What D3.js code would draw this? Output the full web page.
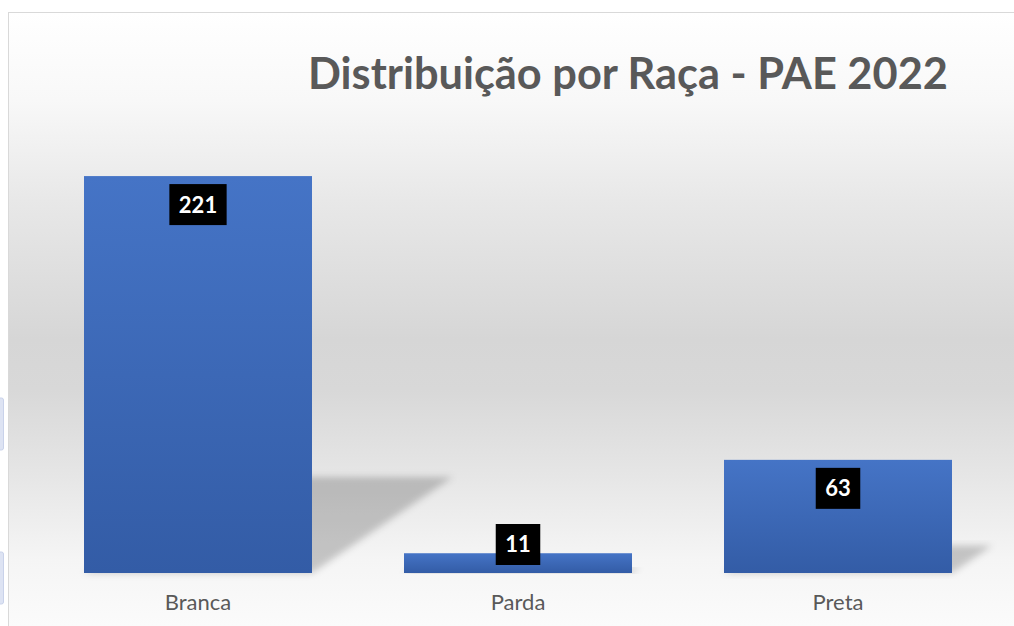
<!DOCTYPE html>
<html><head><meta charset="utf-8">
<script src="https://cdn.jsdelivr.net/npm/d3@7"></script>
<style>body{margin:0;background:#fff;overflow:hidden}</style>
</head><body>
<svg id="c" width="1014" height="626"></svg>
<script>
const categories = ["Branca", "Parda", "Preta"];
const values = [221, 11, 63];
const titleText = "Distribuição por Raça - PAE 2022";
const FONT = "Lato, 'Open Sans', sans-serif";

const W = 1014, H = 626;
const svg = d3.select("#c");
const defs = svg.append("defs");

// background gradient
const bg = defs.append("linearGradient").attr("id", "bg")
  .attr("gradientUnits", "userSpaceOnUse")
  .attr("x1", 0).attr("y1", 13).attr("x2", 0).attr("y2", 626);
[[0, "#ffffff"], [0.142, "#f8f8f8"], [0.305, "#e8e8e8"], [0.533, "#d6d6d6"],
 [0.615, "#d8d8d8"], [0.746, "#e5e5e5"], [0.892, "#f5f5f5"], [1, "#fbfbfb"]]
  .forEach(([o, c]) => bg.append("stop").attr("offset", o).attr("stop-color", c));

const bar = defs.append("linearGradient").attr("id", "bar")
  .attr("x1", 0).attr("y1", 0).attr("x2", 0).attr("y2", 1);
bar.append("stop").attr("offset", 0).attr("stop-color", "#4574c6");
bar.append("stop").attr("offset", 1).attr("stop-color", "#335ca6");

defs.append("filter").attr("id", "blur").attr("x", "-20%").attr("y", "-20%")
  .attr("width", "140%").attr("height", "140%")
  .append("feGaussianBlur").attr("stdDeviation", 3.5);

// left artifacts
[[398, 52], [552, 52]].forEach(([yy, hh]) => {
  svg.append("rect").attr("x", -4).attr("y", yy).attr("width", 7.5).attr("height", hh)
    .attr("rx", 2).attr("fill", "#dde3f3").attr("stroke", "#c9d2ea").attr("stroke-width", 1);
});

// chart area
svg.append("rect").attr("x", 8.5).attr("y", 12.5).attr("width", W).attr("height", H)
  .attr("fill", "url(#bg)").attr("stroke", "#d9d9d9").attr("stroke-width", 1);

const x = d3.scaleBand().domain(categories).range([38, 998]).paddingInner(0.2875).paddingOuter(0.14375);
const y = d3.scaleLinear().domain([0, 250]).range([573, 124]);
const bw = x.bandwidth();
const data = categories.map((c, i) => ({ c, v: values[i] }));

// shadows
svg.append("g").selectAll("path").data(data).join("path")
  .attr("d", d => {
    const x0 = x(d.c), x1 = x0 + bw, yb = y(0), h = yb - y(d.v);
    const top = yb - h * 0.242, sh = h * 0.355;
    return `M${x0},${yb}L${x1},${yb}L${x1 + sh},${top}L${x0 + sh},${top}Z`;
  })
  .attr("fill", "#000").attr("fill-opacity", 0.2).attr("filter", "url(#blur)");

// bars
svg.append("g").selectAll("rect").data(data).join("rect")
  .attr("x", d => x(d.c)).attr("y", d => y(d.v))
  .attr("width", bw).attr("height", d => y(0) - y(d.v))
  .attr("fill", "url(#bar)");

// axis
const ax = svg.append("g").attr("transform", `translate(0,${y(0)})`)
  .call(d3.axisBottom(x).tickSize(0).tickPadding(21));
ax.select(".domain").remove();
ax.selectAll("text").attr("font-family", FONT).attr("font-size", 22).attr("fill", "#595959");

// value labels
const lg = svg.append("g").selectAll("g").data(data).join("g");
lg.each(function (d) {
  const g = d3.select(this);
  const cx = x(d.c) + bw / 2;
  const t = g.append("text").text(d.v).attr("font-family", FONT).attr("font-weight", "bold")
    .attr("font-size", 22).attr("fill", "#fff").attr("text-anchor", "middle");
  const tw = t.node().getComputedTextLength();
  const bh = 41;
  const top = Math.min(y(d.v) + 8, y(0) - 8 - bh);
  g.insert("rect", "text").attr("x", cx - (tw + 19) / 2).attr("y", top)
    .attr("width", tw + 19).attr("height", bh).attr("fill", "#000");
  t.attr("x", cx).attr("y", top + bh / 2).attr("dy", "0.36em");
});

// title
const tt = svg.append("text").text(titleText).attr("x", 308).attr("y", 89)
  .attr("font-family", FONT).attr("font-weight", "bold").attr("font-size", 40).attr("fill", "#595959");
const w0 = tt.node().getComputedTextLength();
tt.attr("font-size", 40 * 640 / w0);
</script>
</body></html>
